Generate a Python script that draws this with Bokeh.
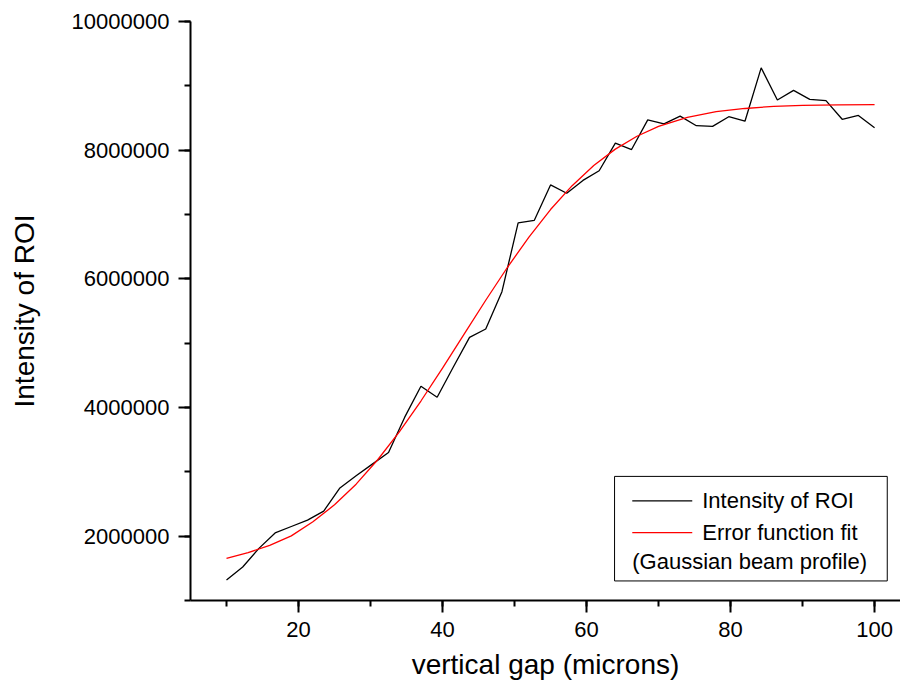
from bokeh.plotting import figure
from bokeh.models import Range1d, SingleIntervalTicker, NumeralTickFormatter, Label
from bokeh.embed import file_html
from bokeh.resources import INLINE

# ---- data ----
gap_um = [10.0, 12.25, 14.5, 16.75, 19.0, 21.25, 23.5, 25.75, 28.0, 30.25,
          32.5, 34.75, 37.0, 39.25, 41.5, 43.75, 46.0, 48.25, 50.5, 52.75,
          55.0, 57.25, 59.5, 61.75, 64.0, 66.25, 68.5, 70.75, 73.0, 75.25,
          77.5, 79.75, 82.0, 84.25, 86.5, 88.75, 91.0, 93.25, 95.5, 97.75, 100.0]
intensity = [1320000, 1520000, 1810000, 2050000, 2150000, 2250000, 2390000,
             2750000, 2940000, 3120000, 3300000, 3850000, 4330000, 4160000,
             4630000, 5090000, 5220000, 5800000, 6870000, 6910000, 7460000,
             7330000, 7530000, 7680000, 8110000, 8010000, 8470000, 8410000,
             8530000, 8380000, 8370000, 8520000, 8450000, 9280000, 8780000,
             8930000, 8790000, 8770000, 8480000, 8540000, 8350000]

# error-function fit curve
fit_x = [10, 13, 16, 19, 22, 25, 28, 31, 34, 37, 40, 43, 46, 49, 52, 55, 58,
         61, 64, 67, 70, 74, 78, 82, 86, 90, 95, 100]
fit_y = [1654000, 1743000, 1858000, 2005000, 2224000, 2487000, 2808000,
         3188000, 3622000, 4101000, 4612000, 5140000, 5667000, 6176000,
         6649000, 7077000, 7448000, 7762000, 8016000, 8216000, 8369000,
         8511000, 8600000, 8648000, 8681000, 8697000, 8705000, 8708000]

x_label = "vertical gap (microns)"
y_label = "Intensity of ROI"
legend_labels = ["Intensity of ROI", "Error function fit", "(Gaussian beam profile)"]

FONT = "Liberation Sans"

p = figure(width=900, height=686, output_backend="svg", toolbar_location=None,
           x_range=Range1d(5, 103.6), y_range=Range1d(1000000, 10000000),
           min_border_left=190, min_border_right=0, min_border_top=21,
           min_border_bottom=86)
p.outline_line_color = None
p.xgrid.visible = False
p.ygrid.visible = False

p.line(gap_um, intensity, line_color="black", line_width=1.3)
p.line(fit_x, fit_y, line_color="red", line_width=1.3)

p.xaxis.ticker = SingleIntervalTicker(interval=20, num_minor_ticks=2)
p.yaxis.ticker = SingleIntervalTicker(interval=2000000, num_minor_ticks=2)
p.yaxis.formatter = NumeralTickFormatter(format="0")

for ax in (p.xaxis[0], p.yaxis[0]):
    ax.axis_line_width = 2
    ax.major_tick_line_width = 2
    ax.minor_tick_line_width = 2
    ax.major_tick_in = 0
    ax.major_tick_out = 12
    ax.minor_tick_in = 0
    ax.minor_tick_out = 6
    ax.major_label_text_font = FONT
    ax.major_label_text_font_size = "22px"
    ax.major_label_text_color = "black"
    ax.axis_label_text_font = FONT
    ax.axis_label_text_font_size = "28px"
    ax.axis_label_text_font_style = "normal"
    ax.axis_label_text_color = "black"

p.xaxis.axis_label = x_label
p.yaxis.axis_label = y_label
p.xaxis.major_label_standoff = 9
p.yaxis.major_label_standoff = 9
p.xaxis.axis_label_standoff = 9
p.yaxis.axis_label_standoff = 29

# ---- legend box (layout in data coordinates) ----
p.quad(left=[63.89], right=[101.76], bottom=[1304000], top=[2929000],
       fill_color="white", line_color="black", line_width=1)
p.segment(x0=[66.35], y0=[2550000], x1=[74.68], y1=[2550000],
          line_color="black", line_width=1.3)
p.segment(x0=[66.35], y0=[2056000], x1=[74.68], y1=[2056000],
          line_color="red", line_width=1.3)
for (lx, ly, txt) in [(76.07, 2550000, legend_labels[0]),
                      (76.07, 2056000, legend_labels[1]),
                      (66.35, 1604000, legend_labels[2])]:
    p.add_layout(Label(x=lx, y=ly, text=txt, text_font=FONT,
                       text_font_size="22px", text_baseline="middle",
                       text_align="left", text_color="black"))

open("out.html", "w").write(file_html(p, INLINE))
